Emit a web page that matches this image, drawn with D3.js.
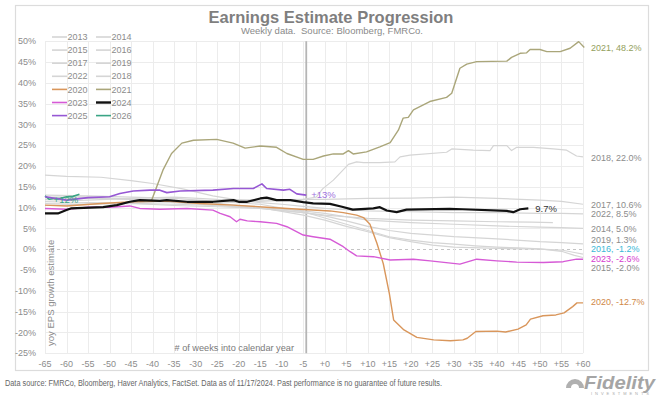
<!DOCTYPE html>
<html>
<head>
<meta charset="utf-8">
<script src="https://cdn.jsdelivr.net/npm/d3@7"></script>
<style>
  html, body { margin: 0; padding: 0; background: #fff; }
  svg { display: block; font-family: "Liberation Sans", Arial, sans-serif; }
</style>
</head>
<body>
<svg id="chart" width="661" height="397"></svg>
<script>
// ---------------- DATA ----------------
const xTickLabels = ["-65","-60","-55","-50","-45","-40","-35","-30","-25","-20","-15","-10","-5",
                     "+0","+5","+10","+15","+20","+25","+30","+35","+40","+45","+50","+55","+60"];
const yTickValues = [50,45,40,35,30,25,20,15,10,5,0,-5,-10,-15,-20,-25];
const nowWeek = -4.3;

// [week, yoy EPS growth estimate %]
const s2013 = [[-65,12.5],[-55,12.6],[-45,12.0],[-35,11.2],[-25,10.5],[-15,9.8],[-5,8.8],[0,8.2],[10,7.4],[20,7.0],[30,6.8],[40,6.6],[48,6.5],[53,6.4]];
const s2014 = [[-65,11.0],[-55,11.2],[-45,11.0],[-35,10.8],[-25,10.5],[-15,10.0],[-5,9.2],[0,8.6],[5,7.8],[10,7.0],[20,6.4],[30,6.0],[40,5.6],[50,5.3],[55,5.2],[60,5.0]];
const s2015 = [[-65,13.0],[-55,12.8],[-45,12.5],[-35,12.2],[-25,11.5],[-15,10.8],[-5,9.0],[0,7.5],[5,6.0],[10,4.5],[15,3.0],[20,2.2],[25,1.6],[30,1.2],[35,0.8],[40,0.5],[45,0.3],[50,0.1],[55,-0.5],[58,-1.5],[60,-2.0]];
const s2016 = [[-65,12.0],[-55,12.3],[-45,12.0],[-35,11.5],[-25,11.0],[-15,10.0],[-5,8.2],[0,7.0],[5,5.5],[10,4.2],[15,2.8],[20,1.8],[25,1.0],[30,0.5],[40,0.2],[50,0.0],[55,-0.2],[58,-0.8],[60,-1.2]];
const s2017 = [[-65,11.5],[-55,11.8],[-45,12.2],[-35,12.5],[-25,12.0],[-15,11.8],[-5,12.0],[0,12.0],[10,12.2],[20,12.3],[30,12.5],[40,12.2],[50,11.8],[55,11.5],[60,10.8]];
const s2018 = [[-65,10.5],[-55,10.8],[-45,11.2],[-35,11.5],[-25,11.3],[-15,11.5],[-5,12.0],[-2,12.5],[-0.5,14.5],[2,16.6],[5.5,20.4],[7.4,21.0],[9,20.8],[12.8,20.8],[16.3,21.0],[17.5,22.2],[19.8,22.6],[28.3,23.3],[29.5,24.1],[34.5,23.8],[38.4,23.7],[39.2,24.9],[42.3,24.9],[43.4,23.7],[44.6,24.5],[48.5,24.5],[53.1,24.1],[56.2,23.8],[58.5,22.4],[60,22.2]];
const s2019 = [[-65,10.5],[-55,10.8],[-45,11.0],[-35,10.5],[-25,10.2],[-15,9.8],[-5,8.8],[0,8.0],[5,6.8],[10,5.5],[15,4.5],[20,3.8],[30,3.0],[40,2.5],[50,1.8],[55,1.6],[60,1.3]];
const s2022 = [[-65,17.8],[-60,17.5],[-52,17.3],[-45,16.5],[-40,15.8],[-33,14.5],[-26,12.8],[-20,11.8],[-15,11.2],[-10,10.8],[-5,10.3],[0,9.8],[5,9.5],[10,9.2],[20,9.0],[30,8.8],[40,8.8],[50,8.6],[55,8.6],[60,8.5]];
const s2020 = [[-65,10.6],[-60,10.4],[-52,11.0],[-44.5,11.4],[-36.7,11.6],[-29,11.0],[-21.3,10.6],[-13.5,10.1],[-5.8,9.6],[1.2,9.2],[4.3,8.8],[7.4,8.2],[9,7.6],[10.5,6.0],[12.1,1.5],[13.6,-3.5],[15,-10.6],[16,-17.0],[18.4,-19.4],[21.4,-21.2],[25.3,-21.8],[29.2,-22.0],[32.1,-21.8],[33.1,-21.4],[35.1,-19.8],[40,-19.7],[42,-19.9],[44.9,-19.2],[46.8,-18.2],[47.8,-16.8],[50.7,-16.0],[53.7,-15.8],[55.6,-15.3],[57.6,-13.8],[58.6,-12.9],[60,-12.9]];
const s2021 = [[-42,11.5],[-40.2,11.8],[-37.6,19.0],[-35.6,23.0],[-33.2,25.5],[-30.5,26.2],[-25.1,26.4],[-21.3,25.5],[-18.5,24.3],[-15,24.8],[-11.2,24.5],[-8.8,23.0],[-5,21.6],[-2.7,21.6],[-0.3,22.4],[2,22.9],[4.3,22.9],[5.5,23.7],[6.6,22.9],[9.7,23.4],[12.8,24.6],[15.2,25.6],[17.1,28.6],[18.2,31.5],[19.4,31.7],[20.6,33.5],[24.4,35.5],[28.3,36.5],[29.5,37.5],[31.4,43.5],[33,44.5],[35.3,45.1],[42.3,45.2],[43.4,46.1],[45.4,47.1],[46.9,47.2],[47.7,48.0],[50,48.0],[51.6,47.5],[54.7,47.5],[57,48.3],[59,49.9],[60.3,48.5]];
const s2023 = [[-65,9.8],[-60,9.6],[-55,10.1],[-50,10.1],[-45.3,10.4],[-43,9.8],[-38.3,9.6],[-32,9.8],[-26,9.4],[-24.3,8.6],[-22,7.8],[-20.5,6.6],[-19.7,7.2],[-18,6.8],[-15,6.6],[-11.2,6.2],[-8.8,5.4],[-5,3.4],[-2.7,3.0],[1.2,2.4],[4.3,0.6],[5.9,-0.6],[7.4,-1.6],[11.3,-1.8],[15.2,-2.6],[20.6,-2.4],[24.5,-2.8],[31.4,-3.6],[35.3,-2.4],[40,-2.8],[44.6,-3.1],[50.8,-3.2],[55.4,-3.0],[58.5,-2.4],[60,-2.4]];
const s2024 = [[-65,8.6],[-62,8.6],[-60,9.4],[-59,9.8],[-51.5,10.1],[-48.3,10.6],[-45.3,11.4],[-43,11.8],[-38.3,11.6],[-36.7,11.8],[-32,11.4],[-26,11.4],[-21.2,11.8],[-20,11.4],[-18,11.4],[-15,12.2],[-13.5,12.4],[-11.2,11.8],[-8,11.8],[-5,11.3],[-2.7,11.0],[1.2,10.9],[4,10.2],[6.5,9.5],[11.3,9.8],[12.8,10.1],[14.4,9.3],[16.7,8.9],[19,9.5],[29,9.7],[32,9.6],[42.3,9.2],[43.8,8.9],[45.4,9.6],[47.3,9.8]];
const s2025 = [[-65,12.6],[-60,11.8],[-55,12.4],[-50,12.6],[-47.6,13.4],[-44.5,14.0],[-40.6,14.2],[-38.3,14.2],[-36.7,13.6],[-33.6,14.0],[-26,14.2],[-21.2,14.6],[-16.6,14.6],[-14.6,15.7],[-13.5,14.6],[-9.6,14.2],[-8.1,14.4],[-6.5,13.3],[-4.3,13.0]];
const s2026 = [[-65,12.8],[-64,12.0],[-63,12.2],[-61.5,12.2],[-60,12.6],[-58.5,12.7],[-57,13.2]];

// end-of-line labels: [series, label text, value]
const endLabels = [["2021","2021, 48.2%",48.2],["2018","2018, 22.0%",22.0],["2017","2017, 10.6%",10.6],
                   ["2022","2022, 8.5%",8.5],["2014","2014, 5.0%",5.0],["2019","2019, 1.3%",1.3],
                   ["2016","2016, -1.2%",-1.2],["2023","2023, -2.6%",-2.6],["2015","2015, -2.0%",-2.0],
                   ["2020","2020, -12.7%",-12.7]];

// ---------------- STYLE ----------------
const GRAY = "#d5d5d5";
const style = {
  "2013": {c: GRAY, w: 1.2}, "2014": {c: GRAY, w: 1.2}, "2015": {c: GRAY, w: 1.2},
  "2016": {c: GRAY, w: 1.2}, "2017": {c: GRAY, w: 1.2}, "2019": {c: GRAY, w: 1.2},
  "2022": {c: GRAY, w: 1.2}, "2018": {c: GRAY, w: 1.2},
  "2020": {c: "#d9965b", w: 1.4}, "2021": {c: "#aaa67a", w: 1.4},
  "2023": {c: "#d65ad6", w: 1.4}, "2024": {c: "#111111", w: 2.2},
  "2025": {c: "#9657d4", w: 1.6}, "2026": {c: "#3aa585", w: 1.6}
};
const labelColor = {"2021": "#93a05c", "2016": "#3bb8d6", "2023": "#d63ad0", "2020": "#d08848"};
const labelDy = {"2019": -4, "2016": -5, "2023": -1.5, "2015": 10, "2021": -1};

const seriesData = {"2013": s2013, "2014": s2014, "2015": s2015, "2016": s2016, "2017": s2017,
  "2019": s2019, "2022": s2022, "2018": s2018, "2020": s2020, "2021": s2021, "2023": s2023,
  "2024": s2024, "2025": s2025, "2026": s2026};
const drawOrder = ["2013","2014","2015","2016","2017","2019","2022","2018","2020","2021","2023","2026","2025","2024"];
const legendRows = [["2013","2014"],["2015","2016"],["2017","2019"],["2022","2018"],["2020","2021"],["2023","2024"],["2025","2026"]];

// ---------------- CHART ----------------
const svg = d3.select("#chart");
const x = d3.scaleLinear().domain([-65, 60]).range([45, 583]);
const y = d3.scaleLinear().domain([-25, 50]).range([353.2, 41.2]);
const xTick = d3.scalePoint().domain(xTickLabels).range([x(-65), x(60)]);

// outer frame
svg.append("rect").attr("x", 15.5).attr("y", 5.5).attr("width", 633).attr("height", 365)
  .attr("fill", "none").attr("stroke", "#dcdcdc").attr("stroke-width", 1.2);

// title
svg.append("text").attr("x", 331).attr("y", 23).attr("text-anchor", "middle")
  .attr("font-size", 16.5).attr("font-weight", "bold").attr("fill", "#7f7f7f")
  .text("Earnings Estimate Progression");
svg.append("text").attr("x", 332).attr("y", 34).attr("text-anchor", "middle")
  .attr("font-size", 9.5).attr("fill", "#8a8a8a").style("white-space", "pre")
  .text("Weekly data.  Source: Bloomberg, FMRCo.");

// gridlines
const grid = svg.append("g");
grid.selectAll("line.h").data(yTickValues).join("line")
  .attr("x1", x(-65)).attr("x2", x(60))
  .attr("y1", d => Math.round(y(d)) + 0.5).attr("y2", d => Math.round(y(d)) + 0.5)
  .attr("stroke", d => d === 0 ? "#c4c4c4" : "#ececec")
  .attr("stroke-width", 1)
  .attr("stroke-dasharray", d => d === 0 ? "3,3" : null);
grid.selectAll("line.v").data(xTickLabels).join("line")
  .attr("x1", d => Math.round(xTick(d)) + 0.5).attr("x2", d => Math.round(xTick(d)) + 0.5)
  .attr("y1", y(50)).attr("y2", y(-25))
  .attr("stroke", "#ececec").attr("stroke-width", 1);

// y tick labels
svg.append("g").selectAll("text").data(yTickValues).join("text")
  .attr("x", 36).attr("y", d => y(d)).attr("dy", "0.35em").attr("text-anchor", "end")
  .attr("font-size", 9).attr("fill", "#8c8c8c").text(d => d + "%");

// x tick labels
svg.append("g").selectAll("text").data(xTickLabels).join("text")
  .attr("x", d => xTick(d)).attr("y", 366.5).attr("text-anchor", "middle")
  .attr("font-size", 9).attr("fill", "#8c8c8c").text(d => d);

// now line
svg.append("line").attr("x1", x(nowWeek)).attr("x2", x(nowWeek))
  .attr("y1", y(50)).attr("y2", y(-25))
  .attr("stroke", "#b5b5b5").attr("stroke-width", 1.8);

// axis titles
svg.append("text").attr("transform", `translate(54,${y(-10.5)}) rotate(-90)`)
  .attr("text-anchor", "middle").attr("font-size", 9.5).attr("fill", "#8c8c8c")
  .text("yoy EPS growth estimate");
svg.append("text").attr("x", 294).attr("y", 350.5).attr("text-anchor", "end")
  .attr("font-size", 9.2).attr("fill", "#7a7a7a").text("# of weeks into calendar year");

// series lines
const line = d3.line().x(d => x(d[0])).y(d => y(d[1])).curve(d3.curveLinear);
svg.append("g").selectAll("path").data(drawOrder).join("path")
  .attr("d", k => line(seriesData[k]))
  .attr("fill", "none")
  .attr("stroke", k => style[k].c)
  .attr("stroke-width", k => style[k].w)
  .attr("stroke-linejoin", "round");

// end labels
svg.append("g").selectAll("text").data(endLabels).join("text")
  .attr("x", 591)
  .attr("y", d => y(d[2]) + (labelDy[d[0]] || 0))
  .attr("dy", "0.35em")
  .attr("font-size", 9)
  .attr("fill", d => labelColor[d[0]] || "#8c8c8c")
  .text(d => d[1]);

// current-year style labels
const last2024 = s2024[s2024.length - 1];
svg.append("text").attr("x", x(last2024[0]) + 7).attr("y", y(9.7)).attr("dy", "0.35em")
  .attr("font-size", 9.5).attr("fill", "#333").text("9.7%");
const last2025 = s2025[s2025.length - 1];
svg.append("text").attr("x", x(last2025[0]) + 5).attr("y", y(13.0)).attr("dy", "0.35em")
  .attr("font-size", 9.5).attr("fill", "#a070dc").text("+13%");
svg.append("text").attr("x", x(-63)).attr("y", y(12.0)).attr("dy", "0.35em")
  .attr("font-size", 9.5).attr("fill", "#3aa585").text("+12%");

// legend
const lg = svg.append("g");
legendRows.forEach((row, i) => {
  row.forEach((k, j) => {
    const lx = j === 0 ? 52 : 96;
    const ly = 37 + i * 13.1;
    lg.append("line").attr("x1", lx).attr("x2", lx + 15).attr("y1", ly).attr("y2", ly)
      .attr("stroke", style[k].c).attr("stroke-width", k === "2024" ? 2.4 : 1.6);
    lg.append("text").attr("x", lx + 15.5).attr("y", ly).attr("dy", "0.35em")
      .attr("font-size", 9).attr("fill", "#8c8c8c").text(k);
  });
});

// footer
svg.append("text").attr("x", 5).attr("y", 386).attr("font-size", 8.5).attr("fill", "#666")
  .attr("textLength", 437).attr("lengthAdjust", "spacingAndGlyphs")
  .text("Data source: FMRCo, Bloomberg, Haver Analytics, FactSet. Data as of 11/17/2024. Past performance is no guarantee of future results.");

// logo
const logo = svg.append("g");
logo.append("path").attr("d", "M566,388 A9,9 0 1 1 584,388 L579,388 A4,4 0 1 0 571,388 Z")
  .attr("fill", "#b0b0b0");
logo.append("text").attr("x", 584).attr("y", 388.5).attr("font-size", 18).attr("font-weight", "bold")
  .attr("font-style", "italic").attr("fill", "#a5a5a5").attr("textLength", 71)
  .attr("lengthAdjust", "spacingAndGlyphs").text("Fidelity");
logo.append("text").attr("x", 591).attr("y", 395).attr("font-size", 4).attr("fill", "#aaa")
  .attr("textLength", 58).attr("lengthAdjust", "spacing").text("INVESTMENTS");
</script>
</body>
</html>
